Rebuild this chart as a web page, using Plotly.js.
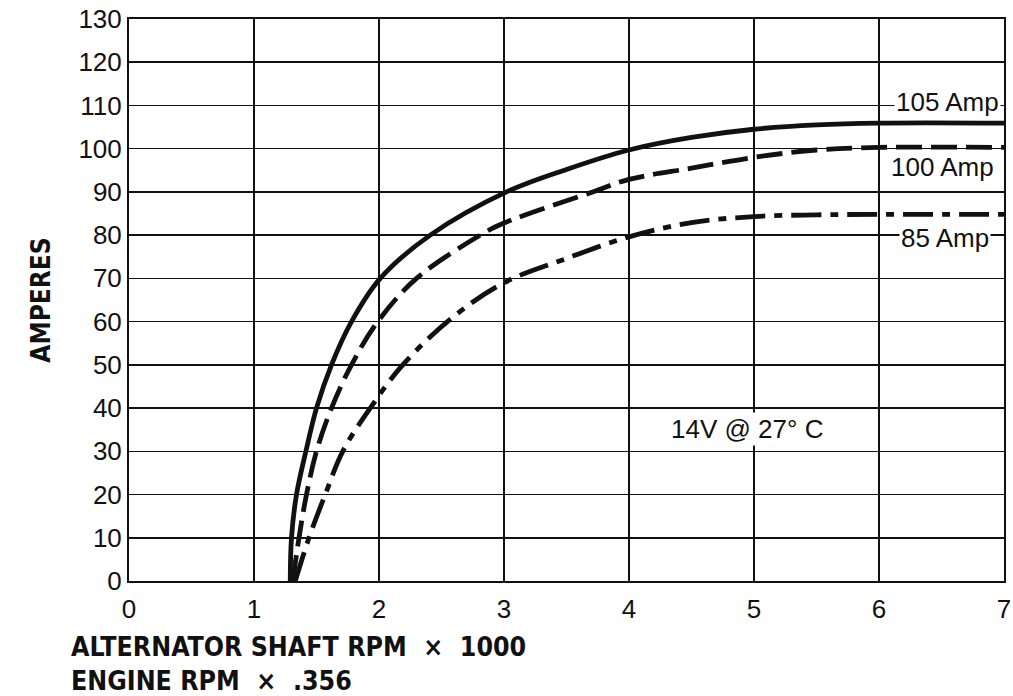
<!DOCTYPE html>
<html>
<head>
<meta charset="utf-8">
<script src="https://cdn.plot.ly/plotly-3.0.1.min.js"></script>
<style>
  html, body { margin: 0; padding: 0; background: #fff; }
  #chart { width: 1013px; height: 696px; }
</style>
</head>
<body>
<div id="chart"></div>
<script>
// Alternator output curves (x = alternator shaft rpm x 1000, y = amperes)
const amp105X = [1.29, 1.30, 1.34, 1.415, 1.50, 1.62, 1.78, 2.01, 2.41, 3.02, 3.5, 4.0, 4.5, 5.0, 5.5, 6.0, 7.0];
const amp105Y = [0, 10, 20, 30, 40, 50, 60, 70, 80, 90, 95.2, 99.7, 102.6, 104.5, 105.5, 105.9, 105.9];

const amp100X = [1.31, 1.36, 1.42, 1.50, 1.62, 1.78, 1.99, 2.30, 2.81, 3.0, 3.71, 4.0, 4.5, 5.0, 5.5, 6.0, 7.0];
const amp100Y = [0, 10, 20, 30, 40, 50, 60, 70, 80, 82.8, 90, 92.9, 95.5, 98, 99.7, 100.3, 100.3];

const amp85X = [1.33, 1.44, 1.57, 1.71, 1.93, 2.19, 2.59, 3.0, 3.5, 4.0, 4.5, 5.0, 5.5, 6.0, 7.0];
const amp85Y = [0, 10, 20, 30, 40, 50, 61, 69, 74.6, 79.6, 82.9, 84.3, 84.7, 84.8, 84.8];

const curveLabels = ["105 Amp", "100 Amp", "85 Amp"];
const labelX = [6.55, 6.51, 6.53];
const labelY = [110.8, 95.8, 79.3];
const noteText = "14V @ 27° C";
const noteX = 4.94;
const noteY = 35.2;
const xTickVals = [0, 1, 2, 3, 4, 5, 6, 7];
const yTickVals = [0, 10, 20, 30, 40, 50, 60, 70, 80, 90, 100, 110, 120, 130];

const lineCol = '#111';
const traces = [
  { x: amp105X, y: amp105Y, mode: 'lines', name: curveLabels[0],
    line: { color: lineCol, width: 4.8, shape: 'spline', smoothing: 1 } },
  { x: amp100X, y: amp100Y, mode: 'lines', name: curveLabels[1],
    line: { color: lineCol, width: 4.8, dash: '26px,9px', shape: 'spline', smoothing: 1 } },
  { x: amp85X, y: amp85Y, mode: 'lines', name: curveLabels[2],
    line: { color: lineCol, width: 4.8, dash: '30px,9px,8px,9px', shape: 'spline', smoothing: 1 } }
];

const tickFont = { family: 'Liberation Sans, Arial, sans-serif', size: 26, color: '#111' };
const labelFont = { family: 'Liberation Sans, Arial, sans-serif', size: 26, color: '#111' };
const titleFont = { family: '"DejaVu Sans Condensed", "DejaVu Sans", sans-serif', size: 26.5, color: '#111', weight: 'bold' };

const annotations = curveLabels.map((t, i) => ({
  x: labelX[i], y: labelY[i], xref: 'x', yref: 'y', text: t, showarrow: false,
  font: labelFont, bgcolor: '#fff', borderpad: 1
}));
annotations.push({
  x: noteX, y: noteY, xref: 'x', yref: 'y', text: noteText, showarrow: false,
  font: labelFont, bgcolor: '#fff', borderpad: 1
});
annotations.push({
  x: -0.0685, y: -0.1468, xref: 'paper', yref: 'paper', xanchor: 'left', yanchor: 'middle',
  align: 'left', showarrow: false,
  text: '<b>ALTERNATOR SHAFT RPM  ×  1000</b><br><b>ENGINE RPM  ×  .356</b>',
  font: titleFont
});

const layout = {
  width: 1013, height: 696,
  margin: { l: 129, r: 9, t: 19, b: 115 },
  paper_bgcolor: '#fff', plot_bgcolor: '#fff',
  showlegend: false,
  font: tickFont,
  xaxis: {
    range: [0, 7], tickvals: xTickVals, showgrid: true, gridcolor: '#111', gridwidth: 1.6,
    zeroline: false, showline: true, linecolor: '#111', linewidth: 2, mirror: true,
    ticks: '', tickfont: tickFont, ticklabelstandoff: 4, fixedrange: true
  },
  yaxis: {
    range: [0, 130], tickvals: yTickVals, showgrid: true, gridcolor: '#111', gridwidth: 1.6,
    zeroline: false, showline: true, linecolor: '#111', linewidth: 2, mirror: true,
    ticks: '', tickfont: tickFont, ticklabelstandoff: 0, fixedrange: true,
    title: { text: '<b>AMPERES</b>', font: { family: titleFont.family, size: 26, color: '#111', weight: 'bold' }, standoff: 20 }
  },
  annotations: annotations
};

Plotly.newPlot('chart', traces, layout, { displayModeBar: false, staticPlot: true });
</script>
</body>
</html>
